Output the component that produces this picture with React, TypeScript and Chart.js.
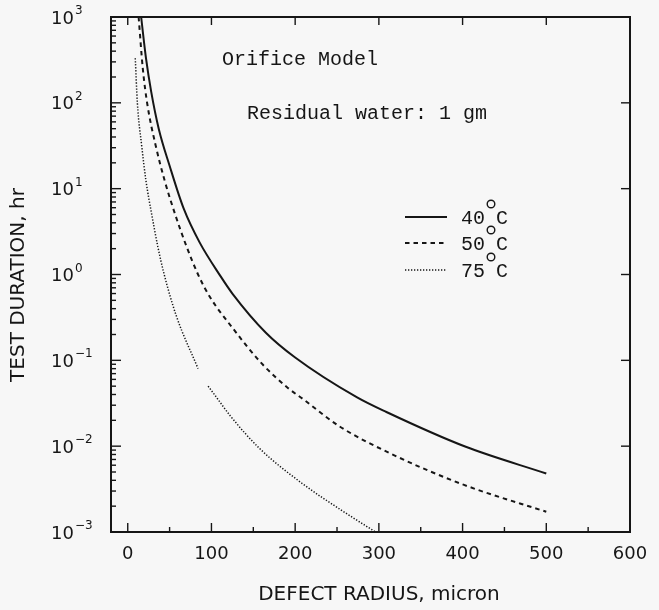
import React, { useEffect, useRef } from "react";
import { Chart, registerables } from "chart.js";

Chart.register(...registerables);

// ---- Data (defect radius in micron, test duration in hr) ----
const radius40 = [16, 22, 28, 37, 50, 67, 86, 111, 125, 165, 200, 274, 309, 403, 500];
const duration40 = [1000, 320, 135, 50, 18.5, 5.8, 2.35, 0.95, 0.6, 0.21, 0.108, 0.037, 0.025, 0.0099, 0.0048];

const radius50 = [13, 18, 23.5, 33, 44, 57, 70, 84, 98, 125, 160, 191, 210, 253, 314, 401, 500];
const duration50 = [1000, 250, 95, 33, 12.5, 4.9, 2.15, 1.0, 0.55, 0.24, 0.092, 0.048, 0.035, 0.017, 0.0082, 0.00356, 0.00172];

const radius75 = [9, 11.5, 16.6, 21.7, 29, 36, 43, 58, 84, 89, 96, 103.5, 122.6, 157, 208, 255, 296];
const duration75 = [330, 100, 32, 12.5, 4.8, 2.1, 1.05, 0.33, 0.08, null, 0.05, 0.04, 0.0225, 0.0095, 0.0037, 0.0018, 0.001];

const seriesLabels = ["40", "50", "75"];
const xMajorTicks = [0, 100, 200, 300, 400, 500, 600];
const xTickLabels = ["0", "100", "200", "300", "400", "500", "600"];
const xMinorTicks = [50, 150, 250, 350, 450, 550];
const yExponents = [3, 2, 1, 0, -1, -2, -3];

const xTitle = "DEFECT RADIUS, micron";
const yTitle = "TEST DURATION, hr";
const note1 = "Orifice Model";
const note2 = "Residual water: 1 gm";

const INK = "#161616";
const BG = "#f7f7f7";
const DASHES: number[][] = [[], [4.5, 4], [1.3, 1.7]];
const WIDTHS = [2, 2, 1.5];

const toPoints = (xs: number[], ys: (number | null)[]) => xs.map((v, i) => ({ x: v, y: ys[i] }));

const paperPlugin = {
  id: "paper",
  beforeDraw(chart: any) {
    const { ctx, width, height } = chart;
    ctx.save();
    ctx.fillStyle = BG;
    ctx.fillRect(0, 0, width, height);
    ctx.restore();
  },
  afterDraw(chart: any) {
    const { ctx, chartArea: a, scales } = chart;
    const xs = scales.x;
    const ys = scales.y;
    ctx.save();
    ctx.strokeStyle = INK;
    ctx.fillStyle = INK;
    const line = (x1: number, y1: number, x2: number, y2: number) => {
      ctx.beginPath();
      ctx.moveTo(x1, y1);
      ctx.lineTo(x2, y2);
      ctx.stroke();
    };
    // frame
    ctx.lineWidth = 2;
    ctx.strokeRect(a.left, a.top, a.right - a.left, a.bottom - a.top);

    // left axis ticks (major + minor), inward
    ctx.lineWidth = 1.4;
    for (let e = -3; e < 3; e++) {
      for (let m = 1; m <= 9; m++) {
        const py = ys.getPixelForValue(m * Math.pow(10, e));
        line(a.left, py, a.left + (m === 1 ? 10 : 5), py);
      }
    }
    // right axis major ticks
    yExponents.forEach((e) => {
      const py = ys.getPixelForValue(Math.pow(10, e));
      line(a.right - 9, py, a.right, py);
    });
    // bottom / top ticks
    xMajorTicks.forEach((v) => {
      const px = xs.getPixelForValue(v);
      line(px, a.bottom, px, a.bottom - 9);
      line(px, a.top, px, a.top + 8);
    });
    xMinorTicks.forEach((v) => {
      const px = xs.getPixelForValue(v);
      line(px, a.bottom, px, a.bottom - 5);
    });

    // x tick labels
    ctx.font = '18px "DejaVu Sans"';
    ctx.textAlign = "center";
    ctx.textBaseline = "alphabetic";
    xMajorTicks.forEach((v, i) => {
      ctx.fillText(xTickLabels[i], xs.getPixelForValue(v), a.bottom + 27);
    });

    // y tick labels: 10 with superscript exponent
    ctx.textAlign = "left";
    yExponents.forEach((e) => {
      const py = ys.getPixelForValue(Math.pow(10, e));
      ctx.font = '18px "DejaVu Sans"';
      const bx = 51;
      ctx.fillText("10", bx, py + 6.5);
      const w = ctx.measureText("10").width;
      ctx.font = '12px "DejaVu Sans"';
      const ex = e < 0 ? "\u2212" + Math.abs(e) : String(e);
      ctx.fillText(ex, bx + w + 1, py - 3);
    });

    // axis titles
    ctx.font = '20px "DejaVu Sans"';
    ctx.textAlign = "center";
    ctx.fillText(xTitle, 379, 600);
    ctx.save();
    ctx.translate(24, 285);
    ctx.rotate(-Math.PI / 2);
    ctx.fillText(yTitle, 0, 0);
    ctx.restore();

    // annotations
    ctx.font = '20px "Liberation Mono"';
    ctx.textAlign = "left";
    ctx.fillText(note1, 222, 65);
    ctx.fillText(note2, 247, 119);

    // legend
    const legY = [217, 243, 270];
    seriesLabels.forEach((lab, i) => {
      const ly = legY[i];
      ctx.save();
      ctx.lineWidth = WIDTHS[i];
      ctx.setLineDash(DASHES[i]);
      line(405, ly, 447, ly);
      ctx.restore();
      ctx.font = '20px "Liberation Mono"';
      ctx.fillText(lab, 461, ly + 7);
      const w = ctx.measureText(lab).width;
      ctx.save();
      ctx.lineWidth = 1.4;
      ctx.beginPath();
      ctx.arc(461 + w + 6, ly - 13, 3.8, 0, Math.PI * 2);
      ctx.stroke();
      ctx.restore();
      ctx.fillText("C", 461 + w + 11, ly + 7);
    });

    ctx.restore();
  },
};

export default function App() {
  const ref = useRef<HTMLCanvasElement | null>(null);
  useEffect(() => {
    if (!ref.current) return;
    const chart = new Chart(ref.current, {
      type: "line",
      data: {
        datasets: [
          { label: "40", data: toPoints(radius40, duration40) },
          { label: "50", data: toPoints(radius50, duration50) },
          { label: "75", data: toPoints(radius75, duration75) },
        ].map((d, i) => ({
          ...d,
          borderColor: INK,
          borderWidth: WIDTHS[i],
          borderDash: DASHES[i],
          pointRadius: 0,
          fill: false,
          spanGaps: false,
          cubicInterpolationMode: "monotone" as const,
        })),
      },
      options: {
        animation: false,
        responsive: false,
        layout: { padding: { top: 17, right: 29, left: 0, bottom: 0 } },
        plugins: { legend: { display: false }, tooltip: { enabled: false } },
        scales: {
          x: {
            type: "linear",
            min: -20,
            max: 600,
            ticks: { display: false },
            grid: { display: false },
            border: { display: false },
            afterFit: (s: any) => {
              s.height = 78;
            },
          },
          y: {
            type: "logarithmic",
            min: 0.001,
            max: 1000,
            ticks: { display: false },
            grid: { display: false },
            border: { display: false },
            afterFit: (s: any) => {
              s.width = 111;
            },
          },
        },
      },
      plugins: [paperPlugin],
    } as any);
    return () => chart.destroy();
  }, []);
  return (
    <div style={{ position: "fixed", left: 0, top: 0, width: 659, height: 610, background: BG }}>
      <canvas ref={ref} width={659} height={610} style={{ display: "block" }} />
    </div>
  );
}
